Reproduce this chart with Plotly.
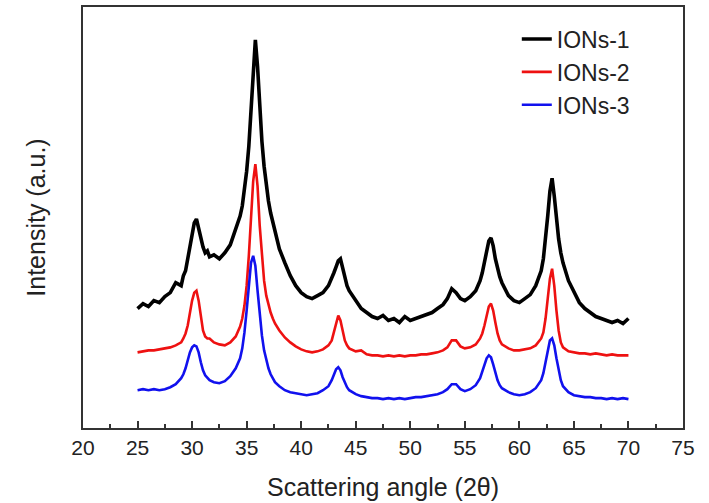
import plotly.graph_objects as go

# Scattering angle grid (2theta, degrees)
angle = [25.0, 25.5, 26.0, 26.5, 27.0, 27.5, 28.0, 28.5,
         29.0, 29.2, 29.4, 29.6, 29.8, 30.0, 30.2, 30.4, 30.6, 30.8, 31.0, 31.2, 31.4, 31.6,
         32.0, 32.5, 33.0, 33.5, 34.0,
         34.4, 34.6, 34.8, 35.0, 35.2, 35.4, 35.6, 35.8, 36.0, 36.2, 36.4, 36.6, 36.8, 37.0, 37.2, 37.4, 37.6,
         38.0, 38.5, 39.0, 39.5, 40.0, 40.5, 41.0, 41.5, 42.0, 42.5,
         42.8, 43.0, 43.2, 43.4, 43.6, 43.8, 44.0, 44.2, 44.4,
         45.0, 45.5, 46.0, 46.5, 47.0, 47.5, 48.0, 48.5, 49.0, 49.5, 50.0, 50.5, 51.0, 51.5, 52.0, 52.5, 53.0,
         53.4, 53.8, 54.2, 54.6,
         55.0, 55.5, 56.0, 56.4,
         56.6, 56.8, 57.0, 57.2, 57.4, 57.6, 57.8, 58.0, 58.2, 58.4,
         59.0, 59.5, 60.0, 60.5, 61.0, 61.5, 62.0,
         62.2, 62.4, 62.6, 62.8, 63.0, 63.2, 63.4, 63.6, 63.8, 64.0,
         64.5, 65.0, 65.5, 66.0, 66.5, 67.0, 67.5, 68.0, 68.5, 69.0, 69.5, 70.0]

ions_1 = [120, 125, 122, 128, 126, 132, 136, 146,
          143, 153, 158, 170, 183, 196, 206, 210, 200, 188, 182, 176, 178, 172,
          174, 170, 176, 184, 200,
          213, 223, 238, 258, 283, 318, 358, 390, 363, 323, 288, 263, 243, 228, 216, 206, 196,
          180, 166, 153, 143, 136, 132, 130, 133, 136, 143,
          150, 156, 162, 168, 170, 160, 150, 143, 138,
          128, 120, 116, 112, 110, 113, 108, 110, 106, 112, 108, 110, 112, 114, 116, 120, 124,
          130, 140, 136, 130,
          128, 132, 138, 148,
          156, 166, 178, 188, 191, 183, 170, 160, 152, 146,
          133, 128, 126, 130, 134, 143, 158,
          170, 188, 213, 238, 251, 233, 210, 190, 176, 166,
          148, 136, 126, 120, 116, 112, 110, 108, 106, 108, 105, 110]

ions_2 = [76, 77, 78, 78, 79, 80, 81, 83,
          86, 90, 95, 103, 116, 128, 136, 138, 128, 110, 98, 92, 90, 90,
          86, 84, 83, 86, 92,
          102, 110, 123, 143, 173, 213, 248, 265, 243, 203, 170, 148, 133, 123, 116, 110, 105,
          98, 91, 86, 82, 79, 77, 76, 77, 79, 83,
          88, 96, 106, 113, 108, 96, 88, 83, 80,
          77, 78, 74, 73, 73, 72, 73, 72, 73, 72, 73, 73, 74, 74, 75, 76, 78,
          81, 88, 88, 82,
          80, 81, 84, 90,
          95, 103, 113, 122, 125, 118, 106, 95, 88, 84,
          80, 78, 78, 79, 80, 83, 90,
          96, 110, 130, 150, 160, 143, 118, 98, 86, 81,
          77, 76, 75, 75, 74, 75, 74, 73, 74, 73, 73, 73]

ions_3 = [38, 39, 38, 39, 38, 39, 41, 44,
          50, 54, 60, 68, 76, 81, 83, 82, 76, 66, 58, 53, 50, 48,
          46, 45, 47, 52, 60,
          70, 80, 96, 118, 143, 166, 173, 163, 138, 113, 93, 78, 68, 60, 54, 50, 46,
          42, 38, 36, 35, 34, 33, 34, 35, 38, 42,
          48, 54, 59, 61, 58, 51, 45, 41, 38,
          34, 32, 31, 30, 30, 29, 30, 29, 30, 29, 30, 31, 31, 32, 33, 34, 36,
          39, 44, 44, 39,
          37, 39, 43, 50,
          56, 63, 70, 73, 71, 64, 56, 48, 43, 40,
          36, 34, 33, 34, 36, 40, 48,
          55, 66, 78, 88, 90, 83, 70, 58, 48, 42,
          36, 33, 32, 31, 31, 30, 30, 29, 30, 29, 30, 29]

series_names = ["IONs-1", "IONs-2", "IONs-3"]
series_colors = ["#000000", "#ee1111", "#1111ee"]
series_widths = [3.6, 2.6, 2.6]

fig = go.Figure()
for name, vals, col, w in zip(series_names, [ions_1, ions_2, ions_3], series_colors, series_widths):
    fig.add_trace(go.Scatter(x=angle, y=vals, mode="lines", name=name,
                             line=dict(color=col, width=w)))

fig.update_layout(
    width=709, height=503,
    margin=dict(l=83, r=26, t=5, b=75),
    paper_bgcolor="white", plot_bgcolor="white",
    font=dict(family="Liberation Sans, Arial, sans-serif", color="#222222", size=20),
    showlegend=True,
    legend=dict(x=0.723, y=0.975, xanchor="left", yanchor="top",
                bgcolor="rgba(0,0,0,0)", font=dict(size=23, color="#222222")),
)
fig.update_xaxes(
    range=[20, 75], tick0=20, dtick=5, ticks="inside", ticklen=7, tickwidth=1.5,
    tickcolor="#333333", showline=True, linecolor="#333333", linewidth=2, mirror=True,
    showgrid=False, zeroline=False,
    minor=dict(ticks="inside", ticklen=4, dtick=2.5, tick0=20, tickcolor="#333333", showgrid=False),
    title=dict(text="Scattering angle (2θ)", font=dict(size=25), standoff=20),
    tickfont=dict(size=21),
)
fig.update_yaxes(
    range=[0, 423], showticklabels=False, ticks="", showline=True, linecolor="#333333",
    linewidth=2, mirror=True, showgrid=False, zeroline=False,
    title=dict(text="Intensity (a.u.)", font=dict(size=25), standoff=28),
)

fig.write_html("out.html")
